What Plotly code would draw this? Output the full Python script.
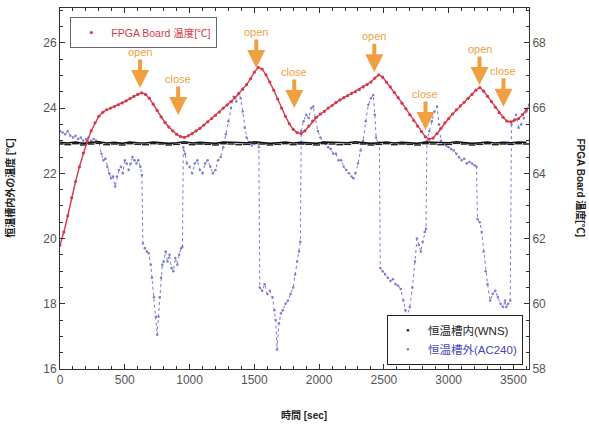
import plotly.graph_objects as go

# ---------------- data ----------------
fpga_t = list(range(0, 3601, 30))
fpga_temp = [61.8, 62.2, 62.7, 63.25, 63.75, 64.2, 64.62, 64.98, 65.3, 65.55,
             65.75, 65.87, 65.95, 66.0, 66.05, 66.1, 66.16, 66.22, 66.29, 66.36,
             66.42, 66.47, 66.42, 66.3, 66.12, 65.93, 65.73, 65.56, 65.42, 65.3,
             65.2, 65.13, 65.1, 65.15, 65.22, 65.3, 65.38, 65.48, 65.58, 65.68,
             65.78, 65.88, 66.0, 66.1, 66.2, 66.32, 66.45, 66.58, 66.72, 66.9,
             67.1, 67.25, 67.2, 67.02, 66.8, 66.55, 66.28, 66.0, 65.75, 65.52,
             65.35, 65.25, 65.22, 65.3, 65.45, 65.6, 65.72, 65.82, 65.9, 66.0,
             66.08, 66.17, 66.25, 66.32, 66.38, 66.45, 66.5, 66.57, 66.65, 66.72,
             66.8, 66.92, 67.02, 66.95, 66.8, 66.65, 66.48, 66.32, 66.15, 65.98,
             65.8, 65.62, 65.45, 65.28, 65.12, 65.05, 65.08, 65.22, 65.38, 65.55,
             65.68, 65.82, 65.95, 66.07, 66.18, 66.3, 66.42, 66.55, 66.63, 66.52,
             66.36, 66.2, 66.03, 65.86, 65.72, 65.6, 65.58, 65.64, 65.68, 65.8,
             65.95]

wns_t = list(range(0, 3601, 60))
wns_temp = [22.95, 22.93, 22.96, 22.92, 22.95, 22.97, 22.93, 22.95, 22.92, 22.96,
            22.94, 22.93, 22.96, 22.95, 22.92, 22.94, 22.97, 22.93, 22.95, 22.94,
            22.92, 22.96, 22.95, 22.93, 22.94, 22.97, 22.95, 22.92, 22.94, 22.96,
            22.93, 22.95, 22.94, 22.92, 22.96, 22.95, 22.93, 22.94, 22.97, 22.95,
            22.92, 22.94, 22.96, 22.93, 22.95, 22.94, 22.92, 22.96, 22.95, 22.93,
            22.94, 22.97, 22.95, 22.92, 22.94, 22.96, 22.93, 22.95, 22.94, 22.96,
            22.95]

ac_t = [0, 20, 40, 60, 80, 100, 120, 140, 160, 180, 200, 220, 240, 260, 280, 300,
        320, 335, 350, 365, 380, 395, 410, 425, 440, 455, 470, 485, 500, 515, 530,
        545, 560, 575, 590, 605, 620, 632, 640, 655, 670, 685, 700, 710, 725, 740,
        750, 760, 770, 780, 790, 800, 815, 830, 845, 860, 875, 890, 905, 920, 935,
        945, 952, 965, 980, 1000, 1020, 1040, 1060, 1080, 1100, 1120, 1140, 1160,
        1180, 1200, 1220, 1240, 1260, 1280, 1300, 1320, 1340, 1360, 1380, 1395,
        1410, 1425, 1440, 1460, 1480, 1500, 1520, 1535, 1542, 1560, 1580, 1600,
        1620, 1640, 1655, 1665, 1675, 1690, 1705, 1720, 1740, 1760, 1780, 1800,
        1815, 1830, 1845, 1855, 1862, 1880, 1900, 1920, 1940, 1955, 1970, 1990,
        2010, 2030, 2050, 2070, 2090, 2110, 2130, 2150, 2170, 2190, 2210, 2230,
        2250, 2265, 2280, 2300, 2320, 2340, 2360, 2380, 2400, 2418, 2430, 2440,
        2455, 2465, 2472, 2490, 2510, 2530, 2550, 2570, 2590, 2610, 2630, 2650,
        2665, 2680, 2700, 2720, 2740, 2755, 2770, 2785, 2800, 2815, 2825, 2832,
        2850, 2870, 2890, 2910, 2925, 2940, 2960, 2980, 3000, 3020, 3040, 3060,
        3080, 3100, 3120, 3140, 3160, 3180, 3200, 3215, 3222, 3240, 3255, 3270,
        3285, 3300, 3320, 3340, 3360, 3380, 3400, 3420, 3435, 3445, 3460, 3475,
        3485, 3500, 3520, 3540, 3560, 3580, 3600, 3620]
ac_temp = [23.3, 23.25, 23.2, 23.3, 23.15, 23.1, 23.15, 23.05, 23.1, 23.0, 23.05,
           23.1, 23.0, 23.05, 23.0, 22.95, 22.6, 22.4, 22.45, 22.2, 22.0, 21.85,
           21.9, 21.6, 21.9, 22.1, 22.2, 22.0, 22.4, 22.3, 22.1, 22.3, 22.5, 22.4,
           22.3, 22.4, 22.2, 21.95, 19.85, 19.7, 19.6, 19.55, 19.2, 18.8, 18.2,
           17.6, 17.05, 17.6, 18.2, 18.8, 19.2, 19.3, 19.6, 19.3, 19.5, 19.1, 19.0,
           19.4, 19.2, 19.5, 19.7, 19.75, 22.8, 22.6, 22.3, 22.2, 22.0, 22.3, 22.4,
           22.1, 22.0, 22.3, 22.4, 22.2, 22.0, 22.1, 22.4, 22.5, 22.8, 23.2, 23.6,
           24.0, 24.35, 24.2, 24.45, 24.3, 23.9, 23.4, 23.1, 22.95, 22.85, 22.9,
           22.95, 22.8, 18.5, 18.4, 18.6, 18.3, 18.4, 18.2, 17.8, 17.5, 16.6, 17.4,
           17.7, 17.8, 18.0, 18.1, 18.3, 18.5, 18.9, 19.3, 19.6, 19.9, 23.3, 23.6,
           23.8, 23.7, 24.0, 24.05, 23.7, 23.3, 23.1, 22.95, 22.9, 22.8, 22.75,
           22.6, 22.6, 22.4, 22.4, 22.2, 22.1, 22.0, 21.9, 21.85, 22.0, 22.3, 22.7,
           23.0, 23.6, 24.1, 24.3, 24.4, 23.8, 23.1, 22.9, 22.95, 19.1, 19.0, 18.9,
           18.8, 18.7, 18.75, 18.6, 18.55, 18.45, 18.1, 17.8, 17.6, 17.9, 18.5,
           19.3, 20.0, 19.8, 19.6, 19.9, 20.2, 20.3, 23.0, 23.3, 23.6, 23.9, 24.05,
           23.5, 23.0, 22.9, 22.85, 22.8, 22.75, 22.7, 22.6, 22.5, 22.4, 22.45,
           22.3, 22.35, 22.3, 22.25, 22.2, 20.6, 20.5, 20.2, 19.6, 19.0, 18.6, 18.1,
           18.3, 18.4, 18.2, 18.0, 17.9, 18.1, 17.9, 18.0, 18.1, 23.5, 23.6, 23.8,
           23.4, 23.5, 23.7, 23.9, 24.1]

events = ["open", "close", "open", "close", "open", "close", "open", "close"]
event_t = [618, 912, 1515, 1808, 2426, 2821, 3238, 3423]
event_y = [24.62, 23.79, 25.23, 24.0, 25.1, 23.33, 24.71, 24.04]

x_ticks = [0, 500, 1000, 1500, 2000, 2500, 3000, 3500]

# ---------------- style ----------------
RED = "#d5394b"
BLUE = "#7c7cd0"
ORANGE = "#f0a040"
FONT = "Liberation Sans, Noto Sans CJK JP, sans-serif"

fig = go.Figure()

# legend-only entry for WNS (listed first in the lower-right legend)
fig.add_trace(go.Scatter(x=[None], y=[None], mode="markers", legend="legend2",
                         name="恒温槽内(WNS)",
                         marker=dict(color="#222222", size=2.5), yaxis="y"))
# AC240 (outside chamber)
fig.add_trace(go.Scatter(x=ac_t, y=ac_temp, mode="lines", showlegend=False,
                         line=dict(color=BLUE, width=1, dash="dot"), yaxis="y"))
fig.add_trace(go.Scatter(x=ac_t, y=ac_temp, mode="markers", legend="legend2",
                         name='<span style="color:#4646b8">恒温槽外(AC240)</span>',
                         marker=dict(color=BLUE, size=2.5), yaxis="y"))
# WNS (inside chamber)
fig.add_trace(go.Scatter(x=wns_t, y=wns_temp, mode="lines", showlegend=False,
                         line=dict(color="#111111", width=1.6), yaxis="y"))
fig.add_trace(go.Scatter(x=wns_t, y=[v - 0.05 for v in wns_temp], mode="markers",
                         showlegend=False, hoverinfo="skip",
                         marker=dict(color="#222222", size=5, symbol="line-ew-open",
                                     line=dict(color="#222222", width=1.5)), yaxis="y"))
# FPGA board temperature (right axis)
fig.add_trace(go.Scatter(x=fpga_t, y=fpga_temp, mode="lines", showlegend=False,
                         line=dict(color=RED, width=1.4), yaxis="y2"))
fig.add_trace(go.Scatter(x=fpga_t, y=fpga_temp, mode="markers", legend="legend",
                         name="FPGA Board 温度[℃]",
                         marker=dict(color=RED, size=3.2), yaxis="y2"))

annotations = []
for lab, t, y in zip(events, event_t, event_y):
    annotations.append(dict(x=t, y=y, xref="x", yref="y", text=lab,
                            showarrow=True, ax=0, ay=-36, arrowhead=2,
                            arrowsize=0.9, arrowwidth=4, arrowcolor=ORANGE,
                            font=dict(family=FONT, size=11, color=ORANGE)))
annotations += [
    dict(x=0.52, y=-0.15, xref="paper", yref="paper", text="<b>時間 [sec]</b>",
         showarrow=False, font=dict(family=FONT, size=10, color="#222")),
    dict(x=-0.108, y=0.5, xref="paper", yref="paper", xanchor="center",
         text="<b>恒温槽内外の温度 [℃]</b>",
         textangle=-90, showarrow=False, font=dict(family=FONT, size=10, color="#222")),
    dict(x=1.113, y=0.5, xref="paper", yref="paper", xanchor="center",
         text="<b>FPGA Board 温度[℃]</b>",
         textangle=90, showarrow=False, font=dict(family=FONT, size=10, color="#222")),
]

axis_common = dict(showline=True, linecolor="#333", linewidth=1, ticks="inside",
                   ticklen=5, tickcolor="#333", showgrid=False, zeroline=False,
                   automargin=False,
                   tickfont=dict(family=FONT, size=12, color="#555"))

fig.update_layout(
    width=589, height=434,
    margin=dict(l=60, r=60, t=8, b=65),
    plot_bgcolor="white", paper_bgcolor="white",
    font=dict(family=FONT),
    xaxis=dict(range=[0, 3620], tickvals=x_ticks, mirror="ticks",
               minor=dict(dtick=100, ticks="inside", ticklen=3, tickcolor="#333"),
               **axis_common),
    yaxis=dict(range=[16, 27.07], dtick=2, mirror=True,
               minor=dict(dtick=0.5, ticks="inside", ticklen=3, tickcolor="#333"),
               **axis_common),
    yaxis2=dict(range=[58, 69.07], dtick=2, overlaying="y", side="right",
                minor=dict(dtick=0.5, ticks="inside", ticklen=3, tickcolor="#333"),
                **axis_common),
    legend=dict(x=0.022, y=0.975, xanchor="left", yanchor="top",
                bordercolor="#666", borderwidth=1, bgcolor="white",
                font=dict(family=FONT, size=10.5, color=RED), itemwidth=30),
    legend2=dict(x=0.987, y=0.012, xanchor="right", yanchor="bottom",
                 bordercolor="#222", borderwidth=1, bgcolor="white",
                 tracegroupgap=4,
                 font=dict(family=FONT, size=11.5, color="#222"), itemwidth=30),
    annotations=annotations,
)

fig.write_html("out.html", config={"displayModeBar": False},
               post_script="document.body.style.margin='0px';")
